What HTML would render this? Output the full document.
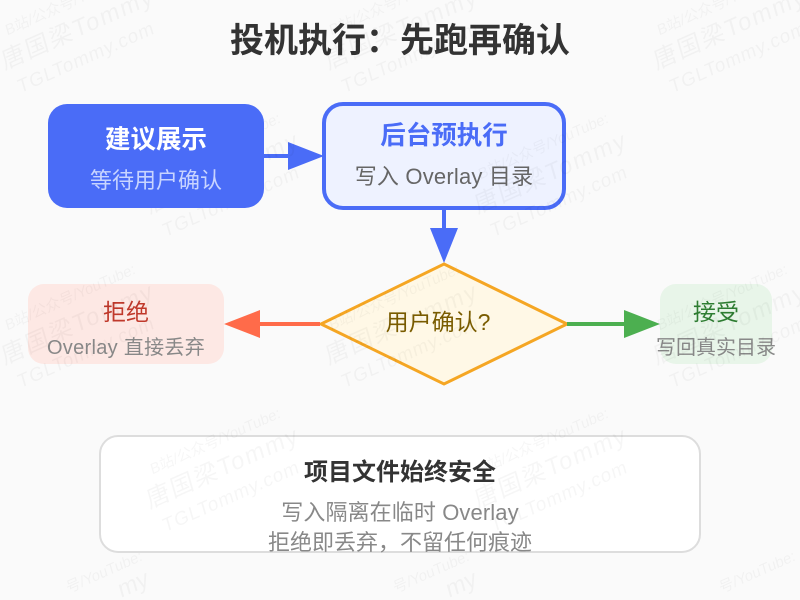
<!DOCTYPE html>
<html><head><meta charset="utf-8">
<style>
html,body{margin:0;padding:0;width:800px;height:600px;overflow:hidden;background:#fafafa}
svg{display:block;overflow:hidden}
text{font-family:"Liberation Sans","Noto Sans CJK SC",sans-serif;text-anchor:middle}
.wm text{fill:#000;opacity:.032}
.wm .e{text-anchor:end}
</style></head><body>
<svg width="800" height="600" viewBox="0 0 800 600" xmlns="http://www.w3.org/2000/svg">
<rect width="800" height="600" fill="#fafafa"/>
<text x="400" y="52" font-size="34" font-weight="700" fill="#333">投机执行：先跑再确认</text>

<rect x="324" y="104" width="240" height="104" rx="19" fill="#eef2ff" stroke="#4a6cf7" stroke-width="4"/>
<text x="444" y="144" font-size="25.500" font-weight="700" fill="#4a6cf7">后台预执行</text>
<text x="444" y="184" font-size="22" letter-spacing=".2" fill="#666">写入 Overlay 目录</text>

<line x1="264" y1="156" x2="290" y2="156" stroke="#4a6cf7" stroke-width="4"/>
<polygon points="288,142 324,156 288,170" fill="#4a6cf7"/>
<line x1="444" y1="210" x2="444" y2="230" stroke="#4a6cf7" stroke-width="4"/>
<polygon points="430,228 458,228 444,263" fill="#4a6cf7"/>

<polygon points="444,264 567,324 444,384 321,324" fill="#fff8e6" stroke="#f5a623" stroke-width="3" stroke-linejoin="miter"/>
<text x="438" y="330" font-size="23" fill="#7a5c00">用户确认?</text>

<line x1="320" y1="324" x2="258" y2="324" stroke="#ff6b4a" stroke-width="4"/>
<polygon points="260,310 224,324 260,338" fill="#ff6b4a"/>
<line x1="567" y1="324" x2="626" y2="324" stroke="#4caf50" stroke-width="4"/>
<polygon points="624,310 660,324 624,338" fill="#4caf50"/>

<rect x="28" y="284" width="196" height="80" rx="16" fill="#fde8e4"/>
<text x="126" y="320" font-size="23" fill="#c0392b">拒绝</text>
<text x="126" y="354" font-size="20" letter-spacing=".3" fill="#888">Overlay 直接丢弃</text>

<rect x="660" y="284" width="112" height="80" rx="16" fill="#e8f5e9"/>
<text x="716" y="320" font-size="23" fill="#2e7d32">接受</text>
<text x="716" y="354" font-size="20" fill="#888">写回真实目录</text>

<rect x="100" y="436" width="600" height="116" rx="18" fill="#fff" stroke="#ddd" stroke-width="2"/>
<text x="400" y="480" font-size="24" font-weight="700" fill="#333">项目文件始终安全</text>
<text x="400" y="520" font-size="22" letter-spacing=".1" fill="#888">写入隔离在临时 Overlay</text>
<text x="400" y="550" font-size="22" fill="#888">拒绝即丢弃，不留任何痕迹</text>

<g class="wm">
<g transform="translate(80,36) rotate(-24) skewX(-8)"><text y="-30" font-size="15">B站/公众号/YouTube:</text><text y="0" font-size="24" letter-spacing="2">唐国梁Tommy</text><text y="28" font-size="19" letter-spacing="1">TGLTommy.com</text></g>
<g transform="translate(404,36) rotate(-24) skewX(-8)"><text y="-30" font-size="15">B站/公众号/YouTube:</text><text y="0" font-size="24" letter-spacing="2">唐国梁Tommy</text><text y="28" font-size="19" letter-spacing="1">TGLTommy.com</text></g>
<g transform="translate(732,36) rotate(-24) skewX(-8)"><text y="-30" font-size="15">B站/公众号/YouTube:</text><text y="0" font-size="24" letter-spacing="2">唐国梁Tommy</text><text y="28" font-size="19" letter-spacing="1">TGLTommy.com</text></g>
<g transform="translate(225,180) rotate(-24) skewX(-8)"><text y="-30" font-size="15">B站/公众号/YouTube:</text><text y="0" font-size="24" letter-spacing="2">唐国梁Tommy</text><text y="28" font-size="19" letter-spacing="1">TGLTommy.com</text></g>
<g transform="translate(553,180) rotate(-24) skewX(-8)"><text y="-30" font-size="15">B站/公众号/YouTube:</text><text y="0" font-size="24" letter-spacing="2">唐国梁Tommy</text><text y="28" font-size="19" letter-spacing="1">TGLTommy.com</text></g>
<g transform="translate(80,331) rotate(-24) skewX(-8)"><text y="-30" font-size="15">B站/公众号/YouTube:</text><text y="0" font-size="24" letter-spacing="2">唐国梁Tommy</text><text y="28" font-size="19" letter-spacing="1">TGLTommy.com</text></g>
<g transform="translate(404,331) rotate(-24) skewX(-8)"><text y="-30" font-size="15">B站/公众号/YouTube:</text><text y="0" font-size="24" letter-spacing="2">唐国梁Tommy</text><text y="28" font-size="19" letter-spacing="1">TGLTommy.com</text></g>
<g transform="translate(732,331) rotate(-24) skewX(-8)"><text y="-30" font-size="15">B站/公众号/YouTube:</text><text y="0" font-size="24" letter-spacing="2">唐国梁Tommy</text><text y="28" font-size="19" letter-spacing="1">TGLTommy.com</text></g>
<g transform="translate(225,475) rotate(-24) skewX(-8)"><text y="-30" font-size="15">B站/公众号/YouTube:</text><text y="0" font-size="24" letter-spacing="2">唐国梁Tommy</text><text y="28" font-size="19" letter-spacing="1">TGLTommy.com</text></g>
<g transform="translate(553,475) rotate(-24) skewX(-8)"><text y="-30" font-size="15">B站/公众号/YouTube:</text><text y="0" font-size="24" letter-spacing="2">唐国梁Tommy</text><text y="28" font-size="19" letter-spacing="1">TGLTommy.com</text></g>
<g transform="translate(143,560) rotate(-24) skewX(-8)"><text class="e" font-size="15">号/YouTube:</text></g>
<g transform="translate(470,560) rotate(-24) skewX(-8)"><text class="e" font-size="15">号/YouTube:</text></g>
<g transform="translate(796,560) rotate(-24) skewX(-8)"><text class="e" font-size="15">号/YouTube:</text></g>
<g transform="translate(150,585) rotate(-24) skewX(-8)"><text class="e" font-size="24">my</text></g>
<g transform="translate(478,585) rotate(-24) skewX(-8)"><text class="e" font-size="24">my</text></g>
</g>

<rect x="48" y="104" width="216" height="104" rx="19" fill="#4a6cf7"/>
<text x="156" y="148" font-size="25.500" font-weight="700" fill="#fff">建议展示</text>
<text x="156" y="188" font-size="22" fill="#c8d4ff">等待用户确认</text>
</svg>
</body></html>
